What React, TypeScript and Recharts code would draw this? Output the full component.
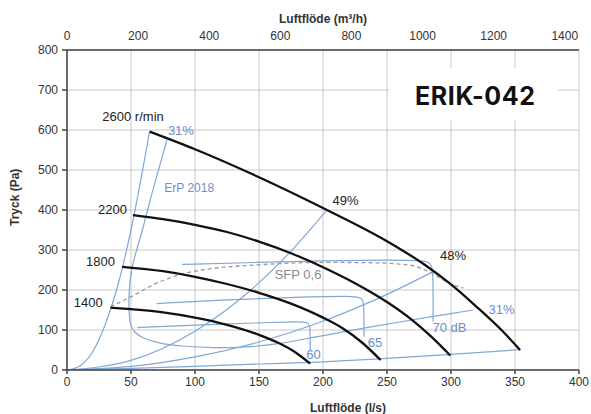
import React from 'react';
import {
  LineChart, Line, XAxis, YAxis, CartesianGrid, ReferenceDot, ReferenceArea,
} from 'recharts';

// ---- data (flow l/s, pressure Pa) ----
const fan2600: [number, number][] = [[64.5, 596], [100, 552], [150, 482], [200, 405], [250, 322], [280, 262], [300, 214], [320, 158], [340, 98], [354, 50]];
const fan2200: [number, number][] = [[51.5, 387], [75, 377], [100, 363], [125, 345], [150, 321], [175, 292], [200, 257], [225, 217], [250, 170], [270, 124], [285, 82], [299.5, 36]];
const fan1800: [number, number][] = [[43, 258], [75, 247], [100, 233], [125, 215], [150, 193], [175, 166], [200, 131], [215, 105], [230, 70], [245, 25]];
const fan1400: [number, number][] = [[34, 156], [50, 152], [75, 144], [100, 131], [125, 113], [150, 88], [165, 68], [178, 45], [190, 16]];

const sysSteep: [number, number][] = [[0, 0], [10, 10], [20, 45], [30, 115], [40, 215], [50, 350], [64.5, 596]];
const eff49: [number, number][] = [[0, 0], [50, 24], [100, 97], [143, 198], [172, 287], [203, 400]];
const eff48: [number, number][] = [[0, 0], [50, 9], [100, 33], [150, 70], [200, 122], [250, 189], [286, 246]];
const effBottom: [number, number][] = [[0, 0], [50, 4], [100, 9], [150, 15], [190, 19], [250, 29], [300, 39], [354, 51]];
const erp31: [number, number][] = [[78, 575], [71.5, 500], [65, 425], [58, 340], [51, 258], [48.5, 190], [48.5, 150], [49.5, 117], [53, 95], [60, 80], [72, 68], [90, 60], [115, 56], [140, 58], [165, 66], [190, 80], [220, 98], [260, 120], [290, 136], [317.5, 150]];
const sfp06: [number, number][] = [[34, 158], [50, 183], [70, 217], [90, 240], [110, 252], [150, 263], [200, 269], [240, 268], [268, 262], [284, 244], [300, 215], [309.6, 205]];
const db70: [number, number][] = [[90, 264], [150, 269], [200, 273], [250, 275], [280, 274], [286, 266], [286, 200], [286, 121]];
const db65: [number, number][] = [[70, 166], [125, 176], [180, 182], [222, 185], [231, 181], [232, 165], [232, 83]];
const db60: [number, number][] = [[55, 106], [100, 112], [150, 118], [180, 121], [188, 120], [190, 112], [190, 50]];

// top axis in m³/h
const topFlowRange = [0, 1440];
const bottomTicks = [0, 50, 100, 150, 200, 250, 300, 350, 400];
const topTicks = [0, 200, 400, 600, 800, 1000, 1200, 1400];
const yTicks = [0, 100, 200, 300, 400, 500, 600, 700, 800];

type Lbl = { text: string; x: number; y: number; color: string; size: number };
const labels: Lbl[] = [
  { text: '2600 r/min', x: 51.6, y: 635, color: '#222', size: 13 },
  { text: '2200', x: 35.5, y: 402.5, color: '#222', size: 13 },
  { text: '1800', x: 26.2, y: 272.5, color: '#222', size: 13 },
  { text: '1400', x: 16.6, y: 170, color: '#222', size: 13 },
  { text: '49%', x: 217.6, y: 425, color: '#222', size: 13 },
  { text: '48%', x: 301.6, y: 287.5, color: '#222', size: 13 },
  { text: '31%', x: 89, y: 600, color: '#6a8fcb', size: 13 },
  { text: 'ErP 2018', x: 95.5, y: 455, color: '#6a8fcb', size: 12 },
  { text: '31%', x: 339.5, y: 152.5, color: '#6a8fcb', size: 13 },
  { text: '70 dB', x: 298.8, y: 107.5, color: '#6a8fcb', size: 13 },
  { text: '65', x: 240.6, y: 70, color: '#6a8fcb', size: 13 },
  { text: '60', x: 192.6, y: 40, color: '#6a8fcb', size: 13 },
  { text: 'SFP 0,6', x: 180.5, y: 240, color: '#8a8a8a', size: 13 },
];

const toPts = (a: [number, number][]) => a.map(([x, y]) => ({ x, y }));

const FONT = '"Liberation Sans", Arial, sans-serif';
const BLUE = '#7fa9d8';

const blueSeries: { name: string; pts: [number, number][]; type: any }[] = [
  { name: 'sys', pts: sysSteep, type: 'monotone' },
  { name: 'e49', pts: eff49, type: 'monotone' },
  { name: 'e48', pts: eff48, type: 'monotone' },
  { name: 'eb', pts: effBottom, type: 'monotone' },
  { name: 'erp', pts: erp31, type: 'natural' },
  { name: 'd70', pts: db70, type: 'basis' },
  { name: 'd65', pts: db65, type: 'basis' },
  { name: 'd60', pts: db60, type: 'basis' },
];
const fans = [fan2600, fan2200, fan1800, fan1400];

export default function App() {
  return (
    <div style={{ position: 'absolute', left: 0, top: 0, width: 591, height: 414, background: '#fff' }}>
      <LineChart width={591} height={414} margin={{ top: 20, right: 12, bottom: 14, left: 7 }}>
        <CartesianGrid xAxisId="bottom" yAxisId="y" stroke="#c8c8c8" strokeWidth={1} />
        <XAxis
          xAxisId="bottom" dataKey="x" type="number" domain={[0, 400]} ticks={bottomTicks}
          height={30} tickSize={4} tickMargin={3} stroke="#444" strokeWidth={1.5}
          tick={{ fill: '#333', fontSize: 12, fontFamily: FONT }} allowDataOverflow
          label={{ value: 'Luftflöde (l/s)', position: 'insideBottom', offset: -12, dx: 25, fill: '#333', fontSize: 12, fontWeight: 700, fontFamily: FONT }}
        />
        <XAxis
          xAxisId="top" orientation="top" dataKey="x" type="number" domain={topFlowRange} ticks={topTicks}
          height={30} tickSize={6} tickMargin={4} tickLine={false} stroke="#444" strokeWidth={1.5}
          tick={{ fill: '#333', fontSize: 12, fontFamily: FONT }} allowDataOverflow
          label={{ value: 'Luftflöde (m³/h)', position: 'insideTop', offset: -6, fill: '#333', fontSize: 12, fontWeight: 700, fontFamily: FONT }}
        />
        <YAxis
          yAxisId="y" type="number" domain={[0, 800]} ticks={yTicks} width={60}
          tickSize={5} tickMargin={4} stroke="#444" strokeWidth={1.5}
          tick={{ fill: '#333', fontSize: 12, fontFamily: FONT }} allowDataOverflow
          label={{ value: 'Tryck (Pa)', angle: -90, position: 'insideLeft', offset: 8, dy: 16, fill: '#333', fontSize: 12, fontWeight: 700, fontFamily: FONT }}
        />
        <ReferenceArea xAxisId="bottom" yAxisId="y" x1={252} x2={383.5} y1={625} y2={755} fill="#fff" fillOpacity={1} stroke="none" />
        <Line xAxisId="top" yAxisId="y" data={topFlowRange.map((x) => ({ x, y: 0 }))} dataKey="y"
          stroke="none" strokeWidth={0} dot={false} activeDot={false} isAnimationActive={false} />
        {blueSeries.map((s) => (
          <Line key={s.name} xAxisId="bottom" yAxisId="y" data={toPts(s.pts)} dataKey="y" type={s.type}
            stroke={BLUE} strokeWidth={1.2} dot={false} activeDot={false} isAnimationActive={false} />
        ))}
        <Line xAxisId="bottom" yAxisId="y" data={toPts(sfp06)} dataKey="y" type="monotone"
          stroke="#9a9a9a" strokeWidth={1.3} strokeDasharray="4 3" dot={false} activeDot={false} isAnimationActive={false} />
        {fans.map((f, i) => (
          <Line key={'fan' + i} xAxisId="bottom" yAxisId="y" data={toPts(f)} dataKey="y" type="monotone"
            stroke="#111" strokeWidth={2.3} dot={false} activeDot={false} isAnimationActive={false} />
        ))}
        {labels.map((l, i) => (
          <ReferenceDot key={'l' + i} xAxisId="bottom" yAxisId="y" x={l.x} y={l.y} r={0} fill="none" stroke="none"
            ifOverflow="visible"
            label={{ value: l.text, position: 'center', fill: l.color, fontSize: l.size, fontFamily: FONT }} />
        ))}
        <ReferenceDot xAxisId="bottom" yAxisId="y" x={319} y={685} r={0} fill="none" stroke="none"
          label={{ value: 'ERIK-042', position: 'center', fill: '#111', fontSize: 25, fontWeight: 700, fontFamily: 'Inter, sans-serif', letterSpacing: 0.6 }} />
      </LineChart>
    </div>
  );
}
